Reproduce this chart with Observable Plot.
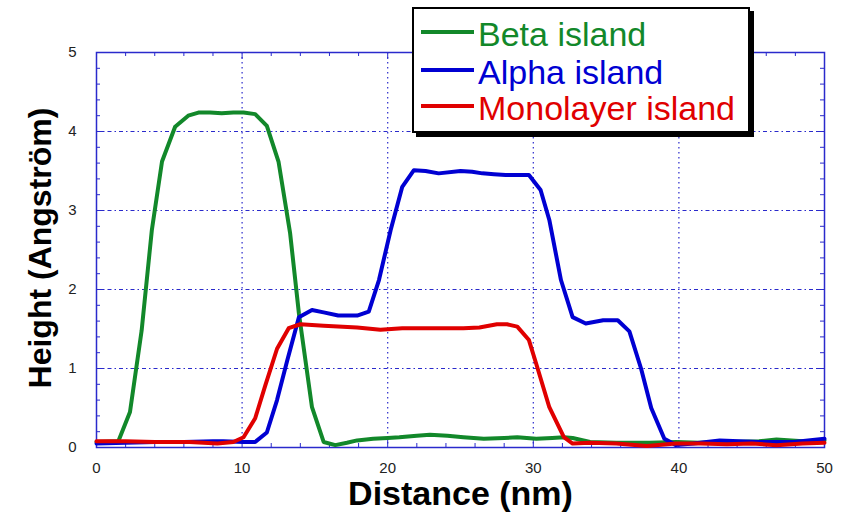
<!DOCTYPE html>
<html>
<head>
<meta charset="utf-8">
<script src="https://cdn.jsdelivr.net/npm/d3@7"></script>
<script src="https://cdn.jsdelivr.net/npm/@observablehq/plot@0.6"></script>
<style>
  html, body { margin: 0; padding: 0; background: #fff; }
  #wrap { position: relative; width: 843px; height: 512px; overflow: hidden; }
  #legend {
    position: absolute; left: 412px; top: 7px; width: 334px; height: 122px;
    background: #fff; border: 2px solid #000; box-shadow: 4px 4px 0 #000;
    font-family: "Liberation Sans", Arial, sans-serif; font-size: 34px;
  }
  .row { position: absolute; left: 0; height: 36px; }
  .sw { position: absolute; left: 7px; width: 53px; height: 4px; }
  .lab { position: absolute; left: 64px; white-space: nowrap; line-height: 1; }
</style>
</head>
<body>
<div id="wrap"></div>
<script>
// ---- data ----
const xTicks = [0, 10, 20, 30, 40, 50];
const yTicks = [0, 1, 2, 3, 4, 5];
const seriesNames = ["Beta island", "Alpha island", "Monolayer island"];
const seriesColors = ["#12882a", "#0000d2", "#e00000"];

const betaX = [0, 1.5, 2.3, 3.1, 3.8, 4.5, 5.4, 6.3, 7.0, 7.8, 8.6, 9.4, 10.1, 10.9, 11.7, 12.5, 13.3, 13.9, 14.8, 15.6, 16.4, 17.2, 17.9, 19.0, 20.0, 20.8, 22.0, 22.9, 24.1, 25.2, 26.6, 28.0, 28.9, 30.2, 31.3, 32.1, 32.7, 33.9, 35.7, 38.0, 39.8, 41.4, 43.5, 45.5, 46.7, 48.5, 50];
const betaY = [0.07, 0.08, 0.45, 1.48, 2.75, 3.62, 4.06, 4.20, 4.24, 4.24, 4.23, 4.24, 4.24, 4.22, 4.07, 3.62, 2.71, 1.70, 0.51, 0.07, 0.03, 0.06, 0.09, 0.11, 0.12, 0.13, 0.15, 0.16, 0.15, 0.13, 0.11, 0.12, 0.13, 0.11, 0.12, 0.13, 0.12, 0.07, 0.06, 0.06, 0.07, 0.06, 0.07, 0.08, 0.10, 0.08, 0.09];

const alphaX = [0, 2, 4, 6, 8.0, 8.7, 10.1, 10.9, 11.7, 12.4, 13.1, 13.9, 14.8, 15.6, 16.6, 17.9, 18.7, 19.4, 20.2, 21.0, 21.8, 22.6, 23.5, 25.0, 25.8, 26.5, 27.3, 28.1, 29.7, 30.5, 31.1, 31.9, 32.7, 33.6, 34.8, 35.8, 36.6, 37.4, 38.1, 39.0, 39.8, 41.0, 42.8, 45.5, 47.9, 50];
const alphaY = [0.05, 0.06, 0.07, 0.07, 0.08, 0.08, 0.07, 0.07, 0.19, 0.60, 1.10, 1.65, 1.74, 1.71, 1.67, 1.67, 1.72, 2.12, 2.75, 3.30, 3.51, 3.50, 3.47, 3.50, 3.49, 3.47, 3.46, 3.45, 3.45, 3.26, 2.88, 2.12, 1.65, 1.57, 1.61, 1.61, 1.47, 1.00, 0.50, 0.11, 0.03, 0.05, 0.09, 0.07, 0.07, 0.11];

const monoX = [0, 2, 4, 6.4, 8.3, 9.4, 10.1, 10.9, 11.6, 12.4, 13.2, 14.0, 15.6, 17.9, 19.5, 21.0, 23.1, 25.2, 26.3, 27.5, 28.2, 28.9, 29.7, 30.2, 31.1, 32.1, 32.7, 33.9, 35.7, 37.8, 39.8, 41.5, 43.3, 45.0, 46.7, 48.5, 50];
const monoY = [0.08, 0.08, 0.07, 0.07, 0.05, 0.07, 0.13, 0.37, 0.79, 1.25, 1.51, 1.56, 1.54, 1.52, 1.49, 1.51, 1.51, 1.51, 1.52, 1.56, 1.56, 1.53, 1.36, 1.06, 0.51, 0.13, 0.05, 0.06, 0.05, 0.02, 0.05, 0.05, 0.04, 0.05, 0.03, 0.05, 0.06];

// ---- build ----
const BLUE = "#2a2acc";
const toRows = (xs, ys) => xs.map((x, i) => ({x, y: ys[i]}));
const beta = toRows(betaX, betaY), alpha = toRows(alphaX, alphaY), mono = toRows(monoX, monoY);

const W = 843, H = 512, mL = 96, mR = 19, mT = 52, mB = 65;
const plotH = H - mT - mB, plotW = W - mL - mR;
const xMinor = d3.range(0, 50.001, 2).filter(v => v % 10 !== 0);
const yMinor = d3.range(0, 5.001, 0.2).map(v => +v.toFixed(1)).filter(v => Math.abs(v - Math.round(v)) > 1e-6);
const xMajor = xTicks.slice(1, -1), yMajor = yTicks.slice(1, -1);

const chart = Plot.plot({
  width: W, height: H,
  marginLeft: mL, marginRight: mR, marginTop: mT, marginBottom: mB,
  x: {domain: [0, 50]},
  y: {domain: [0, 5]},
  style: {fontFamily: "'Liberation Sans', Arial, sans-serif", background: "white", color: "#222"},
  marks: [
    Plot.ruleX(xMajor, {stroke: BLUE, strokeDasharray: "1.5,3.5", strokeWidth: 1.2}),
    Plot.ruleY(yMajor, {stroke: BLUE, strokeDasharray: "4,3,1.5,3", strokeWidth: 1.2}),
    // inward ticks, bottom & top
    Plot.ruleX(xMinor, {stroke: BLUE, insetTop: plotH - 4}),
    Plot.ruleX(xMinor, {stroke: BLUE, insetBottom: plotH - 4}),
    Plot.ruleX(xMajor, {stroke: BLUE, insetTop: plotH - 7}),
    Plot.ruleX(xMajor, {stroke: BLUE, insetBottom: plotH - 7}),
    // inward ticks, left & right
    Plot.ruleY(yMinor, {stroke: BLUE, insetRight: plotW - 4}),
    Plot.ruleY(yMinor, {stroke: BLUE, insetLeft: plotW - 4}),
    Plot.ruleY(yMajor, {stroke: BLUE, insetRight: plotW - 7}),
    Plot.ruleY(yMajor, {stroke: BLUE, insetLeft: plotW - 7}),
    Plot.frame({stroke: BLUE, strokeWidth: 1.5}),
    Plot.line(beta, {x: "x", y: "y", stroke: seriesColors[0], strokeWidth: 4, strokeLinejoin: "round"}),
    Plot.line(alpha, {x: "x", y: "y", stroke: seriesColors[1], strokeWidth: 4, strokeLinejoin: "round"}),
    Plot.line(mono, {x: "x", y: "y", stroke: seriesColors[2], strokeWidth: 4, strokeLinejoin: "round"}),
    Plot.axisX({ticks: xTicks, tickSize: 0, tickPadding: 15, fontSize: 15, label: null, tickFormat: d => String(d)}),
    Plot.axisY({ticks: yTicks, tickSize: 0, tickPadding: 20, fontSize: 15, label: null, tickFormat: d => String(d)}),
    Plot.text(["Distance (nm)"], {frameAnchor: "bottom", textAnchor: "middle", lineAnchor: "middle", dy: 47, fontSize: 34, fontWeight: "bold", fill: "#000"}),
    Plot.text(["Height (Angström)"], {frameAnchor: "left", textAnchor: "middle", lineAnchor: "middle", dx: -56, dy: -2, rotate: -90, fontSize: 32, fontWeight: "bold", fill: "#000"})
  ]
});

const wrap = document.getElementById("wrap");
wrap.appendChild(chart);

// legend overlay (real text)
const legend = document.createElement("div");
legend.id = "legend";
const rowTops = [8, 46, 82];
seriesNames.forEach((name, i) => {
  const row = document.createElement("div");
  row.className = "row";
  row.style.top = rowTops[i] + "px";
  const sw = document.createElement("div");
  sw.className = "sw";
  sw.style.background = seriesColors[i];
  sw.style.top = "13px";
  const lab = document.createElement("div");
  lab.className = "lab";
  lab.style.color = seriesColors[i];
  lab.style.top = "0px";
  lab.textContent = name;
  row.appendChild(sw); row.appendChild(lab);
  legend.appendChild(row);
});
wrap.appendChild(legend);
</script>
</body>
</html>
